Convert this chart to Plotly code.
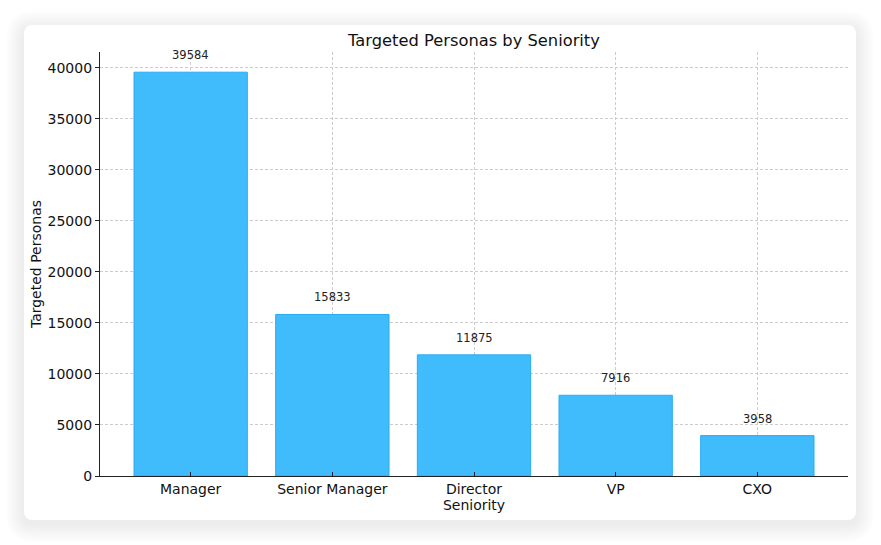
import plotly.graph_objects as go

categories = ["Manager", "Senior Manager", "Director", "VP", "CXO"]
values = [39584, 15833, 11875, 7916, 3958]
y_ticks = [0, 5000, 10000, 15000, 20000, 25000, 30000, 35000, 40000]

W, H = 881, 545
L, R, T, B = 100, 848, 52, 476
pw, ph = R - L, B - T

def px(x):
    return (x - L) / pw

def py(y):
    return (B - y) / ph

def rrect(x0, y0, x1, y1, r):
    X0, X1 = px(x0), px(x1)
    Y0, Y1 = py(y0), py(y1)  # Y0 top (larger), Y1 bottom
    rx, ry = r / pw, r / ph
    return (f"M {X0+rx},{Y0} L {X1-rx},{Y0} Q {X1},{Y0} {X1},{Y0-ry} "
            f"L {X1},{Y1+ry} Q {X1},{Y1} {X1-rx},{Y1} L {X0+rx},{Y1} "
            f"Q {X0},{Y1} {X0},{Y1+ry} L {X0},{Y0-ry} Q {X0},{Y0} {X0+rx},{Y0} Z")

shapes = []
# soft shadow
for g in range(18, 0, -2):
    shapes.append(dict(type="path", xref="paper", yref="paper", layer="below",
                       path=rrect(24 - g, 25 - g + 4, 856 + g, 520 + g + 4, 9 + g),
                       fillcolor="rgba(0,0,0,0.009)", line=dict(width=0)))
shapes.append(dict(type="path", xref="paper", yref="paper", layer="below",
                   path=rrect(24, 25, 856, 520, 9),
                   fillcolor="white", line=dict(width=0)))

fig = go.Figure()
fig.add_trace(go.Bar(
    x=list(range(len(categories))), y=values, width=0.8,
    marker=dict(color="rgb(64,187,252)", line=dict(color="rgb(40,172,245)", width=1)),
    hoverinfo="skip",
))

annotations = [
    dict(x=i, y=v, text=str(v), showarrow=False, xref="x", yref="y",
         yanchor="bottom", yshift=8,
         font=dict(family="DejaVu Sans", size=11.5, color="#222"))
    for i, v in enumerate(values)
]

fig.update_layout(
    width=W, height=H,
    margin=dict(l=L, r=W - R, t=T, b=H - B, pad=0),
    paper_bgcolor="white",
    plot_bgcolor="rgba(0,0,0,0)",
    shapes=shapes,
    annotations=annotations,
    showlegend=False,
    font=dict(family="DejaVu Sans", color="#111"),
    title=dict(text="Targeted Personas by Seniority", xref="paper", x=0.5, xanchor="center",
               yref="container", y=1 - 40 / H, yanchor="middle",
               font=dict(family="DejaVu Sans", size=16.3, color="#111")),
    xaxis=dict(
        range=[-0.64, 4.64],
        tickvals=list(range(len(categories))), ticktext=categories,
        ticks="inside", ticklen=4, tickcolor="#222",
        showline=True, linecolor="#222", linewidth=1.2,
        showgrid=True, gridcolor="#cccccc", gridwidth=0.8, griddash="3px,2px",
        zeroline=False,
        tickfont=dict(size=14, color="#111"),
        title=dict(text="Seniority", font=dict(size=14, color="#111"), standoff=3),
    ),
    yaxis=dict(
        range=[0, 41563],
        tickvals=y_ticks, ticktext=[str(t) for t in y_ticks],
        ticks="outside", ticklen=4, tickcolor="#222",
        showline=True, linecolor="#222", linewidth=1.2,
        showgrid=True, gridcolor="#cccccc", gridwidth=0.8, griddash="3px,2px",
        zeroline=False,
        tickfont=dict(size=14, color="#111"),
        title=dict(text="Targeted Personas", font=dict(size=14, color="#111"), standoff=2),
    ),
)

fig.write_html("out.html", config={"displayModeBar": False},
               post_script="document.body.style.margin='0';document.body.style.overflow='hidden';")
